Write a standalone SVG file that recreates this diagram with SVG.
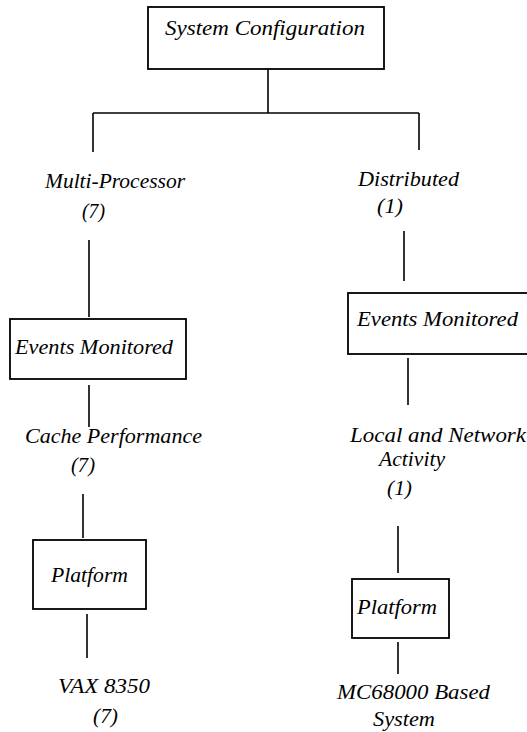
<svg xmlns="http://www.w3.org/2000/svg" width="527" height="732" viewBox="0 0 527 732">
<style>
.box{fill:#fff;stroke:#000;stroke-width:1.8}
.ln{stroke:#000;stroke-width:1.6;fill:none}
text{font-family:"Liberation Serif","DejaVu Serif",serif;font-style:italic;font-size:20px;fill:#000}
</style>
<rect width="527" height="732" fill="#fff"/>
<g id="connectors">
<line class="ln" x1="268" y1="69" x2="268" y2="113"/>
<line class="ln" x1="93" y1="113" x2="419" y2="113"/>
<line class="ln" x1="93" y1="113" x2="93" y2="152"/>
<line class="ln" x1="419" y1="113" x2="419" y2="150"/>
<line class="ln" x1="89" y1="240" x2="89" y2="317"/>
<line class="ln" x1="404" y1="231" x2="404" y2="281"/>
<line class="ln" x1="89" y1="385" x2="89" y2="427"/>
<line class="ln" x1="408" y1="358" x2="408" y2="405"/>
<line class="ln" x1="83" y1="494" x2="83" y2="538"/>
<line class="ln" x1="398" y1="526" x2="398" y2="573"/>
<line class="ln" x1="87" y1="614" x2="87" y2="658"/>
<line class="ln" x1="398" y1="642" x2="398" y2="674"/>
</g>
<g id="system-configuration">
<rect class="box" x="148" y="7" width="236" height="62"/>
<text x="165" y="35" textLength="200" lengthAdjust="spacingAndGlyphs">System Configuration</text>
</g>
<g id="multi-processor">
<text x="45" y="188" textLength="140" lengthAdjust="spacingAndGlyphs">Multi-Processor</text>
<text x="82" y="218" textLength="23" lengthAdjust="spacingAndGlyphs">(7)</text>
</g>
<g id="distributed">
<text x="358" y="186" textLength="101" lengthAdjust="spacingAndGlyphs">Distributed</text>
<text x="377" y="213" textLength="26" lengthAdjust="spacingAndGlyphs">(1)</text>
</g>
<g id="events-left">
<rect class="box" x="10" y="319" width="176" height="60"/>
<text x="15" y="354" textLength="158" lengthAdjust="spacingAndGlyphs">Events Monitored</text>
</g>
<g id="events-right">
<rect class="box" x="348" y="293" width="184" height="61"/>
<text x="357" y="326" textLength="161" lengthAdjust="spacingAndGlyphs">Events Monitored</text>
</g>
<g id="cache-performance">
<text x="25" y="443" textLength="177" lengthAdjust="spacingAndGlyphs">Cache Performance</text>
<text x="71" y="472" textLength="24" lengthAdjust="spacingAndGlyphs">(7)</text>
</g>
<g id="local-network">
<text x="350" y="442" textLength="176" lengthAdjust="spacingAndGlyphs">Local and Network</text>
<text x="379" y="466" textLength="66" lengthAdjust="spacingAndGlyphs">Activity</text>
<text x="387" y="495" textLength="25" lengthAdjust="spacingAndGlyphs">(1)</text>
</g>
<g id="platform-left">
<rect class="box" x="33" y="540" width="113" height="69"/>
<text x="51" y="582" textLength="77" lengthAdjust="spacingAndGlyphs">Platform</text>
</g>
<g id="platform-right">
<rect class="box" x="352" y="579" width="97" height="59"/>
<text x="357" y="614" textLength="80" lengthAdjust="spacingAndGlyphs">Platform</text>
</g>
<g id="vax">
<text x="58" y="693" textLength="92" lengthAdjust="spacingAndGlyphs">VAX 8350</text>
<text x="93" y="723" textLength="25" lengthAdjust="spacingAndGlyphs">(7)</text>
</g>
<g id="mc68000">
<text x="337" y="699" textLength="153" lengthAdjust="spacingAndGlyphs">MC68000 Based</text>
<text x="373" y="726" textLength="62" lengthAdjust="spacingAndGlyphs">System</text>
</g>
</svg>
